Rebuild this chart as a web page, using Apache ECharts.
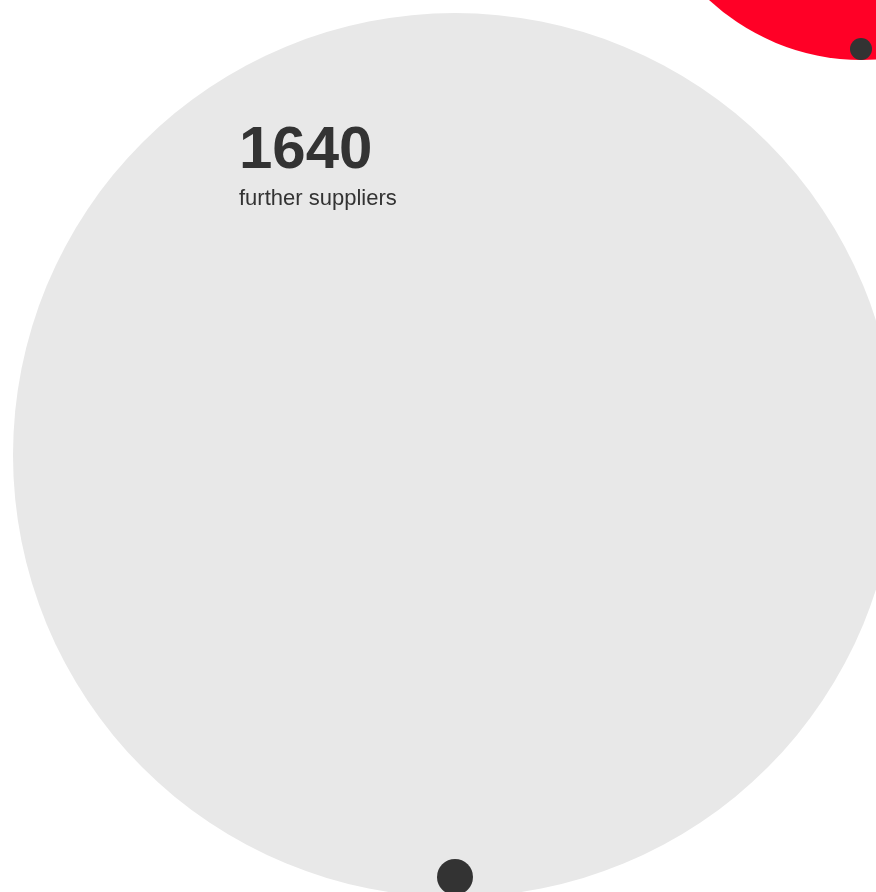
<!DOCTYPE html>
<html>
<head>
<meta charset="utf-8">
<script src="https://cdn.jsdelivr.net/npm/echarts@6/dist/echarts.min.js"></script>
<style>
  html, body { margin: 0; padding: 0; background: #fff; }
  #chart { width: 876px; height: 892px; }
</style>
</head>
<body>
<div id="chart"></div>
<script>
// bubbles: supplier groups
var bubbleNames = ['further suppliers', 'direct suppliers'];
var bubbleValues = [1640, 425];
var bubbleX = [455, 862];
var bubbleY = [455, -165];

// connector dots
var dotX = [455, 861];
var dotY = [877, 49];
var dotSizes = [36, 22];

var colors = ['#e8e8e8', '#ff0026'];
var scale = 442 / Math.sqrt(1640); // radius per sqrt(value)

var chart = echarts.init(document.getElementById('chart'));

var bubbleData = bubbleValues.map(function (v, i) {
    return {
        name: bubbleNames[i],
        value: [bubbleX[i], bubbleY[i], v],
        itemStyle: { color: colors[i], opacity: 1 },
        label: { show: i === 0 }
    };
});

var dotData = dotX.map(function (x, i) {
    return { value: [x, dotY[i]], symbolSize: dotSizes[i] };
});

var option = {
    animation: false,
    grid: { left: 0, right: 0, top: 0, bottom: 0 },
    xAxis: { type: 'value', min: 0, max: 876, show: false },
    yAxis: { type: 'value', min: 0, max: 892, inverse: true, show: false },
    series: [
        {
            type: 'scatter',
            clip: false,
            silent: true,
            data: bubbleData,
            symbolSize: function (val) {
                return Math.sqrt(val[2]) * scale * 2;
            },
            label: {
                position: [226, 105],
                formatter: function (p) {
                    return '{num|' + p.value[2] + '}\n{txt|' + p.name + '}';
                },
                rich: {
                    num: {
                        fontFamily: 'Liberation Sans',
                        fontWeight: 'bold',
                        fontSize: 60,
                        color: '#333',
                        lineHeight: 66
                    },
                    txt: {
                        fontFamily: 'Liberation Sans',
                        fontSize: 22,
                        color: '#333',
                        lineHeight: 30
                    }
                }
            }
        },
        {
            type: 'scatter',
            clip: false,
            silent: true,
            z: 3,
            itemStyle: { color: '#333', opacity: 1 },
            data: dotData
        }
    ]
};
chart.setOption(option);
</script>
</body>
</html>
